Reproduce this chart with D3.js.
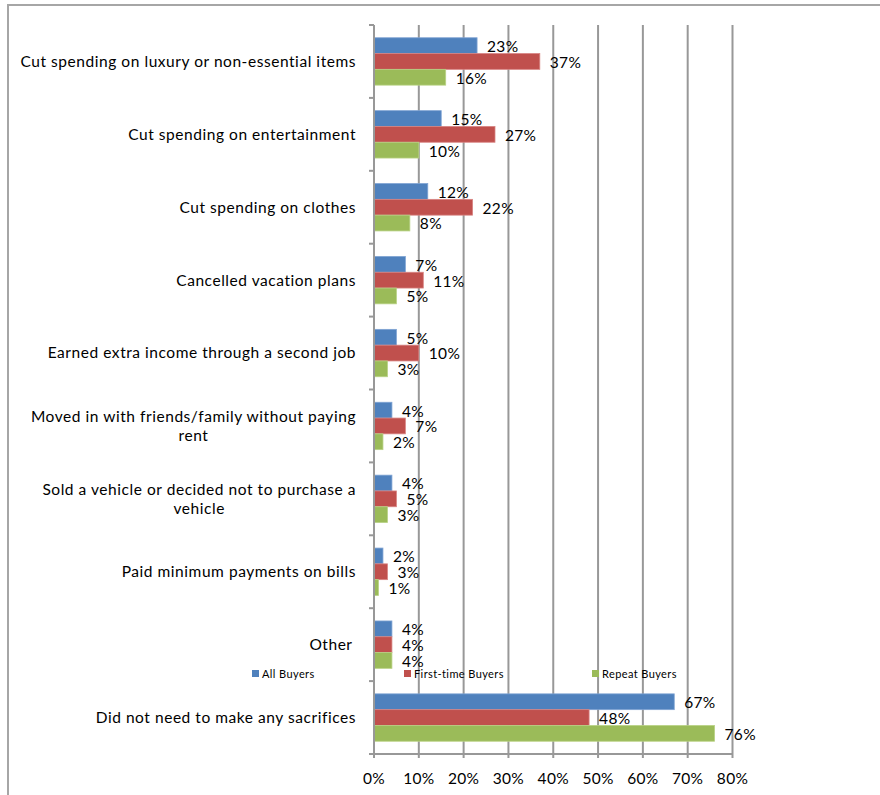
<!DOCTYPE html>
<html>
<head>
<meta charset="utf-8">
<script src="https://cdn.jsdelivr.net/npm/d3@7"></script>
<style>
  html, body { margin: 0; padding: 0; background: #fff; }
  svg { display: block; }
  text { font-family: Lato, "Open Sans", sans-serif; fill: #000; }
</style>
</head>
<body>
<svg id="chart" width="880" height="795"></svg>
<script>
// Survey: sacrifices made to purchase a home
const categories = [
  ["Cut spending on luxury or non-essential items"],
  ["Cut spending on entertainment"],
  ["Cut spending on clothes"],
  ["Cancelled vacation plans"],
  ["Earned extra income through a second job"],
  ["Moved in with friends/family without paying", "rent"],
  ["Sold a vehicle or decided not to purchase a", "vehicle"],
  ["Paid minimum payments on bills"],
  ["Other"],
  ["Did not need to make any sacrifices"]
];
const seriesNames = ["All Buyers", "First-time Buyers", "Repeat Buyers"];
const allBuyers       = [23, 15, 12, 7, 5, 4, 4, 2, 4, 67];
const firstTimeBuyers = [37, 27, 22, 11, 10, 7, 5, 3, 4, 48];
const repeatBuyers    = [16, 10, 8, 5, 3, 2, 3, 1, 4, 76];
const xTicks = [0, 10, 20, 30, 40, 50, 60, 70, 80];

const series = [allBuyers, firstTimeBuyers, repeatBuyers];
const colors = ["#4F81BD", "#C0504D", "#9BBB59"];
const strokes = ["#7FA3D3", "#D88482", "#B9D285"];

const svg = d3.select("#chart");

// outer frame (top and left edges)
svg.append("path")
  .attr("d", "M8,795 L8,5 L880,5")
  .attr("fill", "none")
  .attr("stroke", "#A6A6A6")
  .attr("stroke-width", 2);

const plotLeft = 374, plotRight = 732.5, plotTop = 25, plotBottom = 754;

const x = d3.scaleLinear().domain([0, 80]).range([plotLeft, plotRight]);
const y = d3.scaleBand()
  .domain(d3.range(categories.length))
  .range([plotTop, plotBottom])
  .paddingInner(0.35)
  .paddingOuter(0.175);
const ySub = d3.scaleBand()
  .domain(d3.range(series.length))
  .range([0, y.bandwidth()]);

// vertical gridlines
svg.append("g")
  .selectAll("line")
  .data(xTicks.slice(1))
  .join("line")
  .attr("x1", d => x(d)).attr("x2", d => x(d))
  .attr("y1", plotTop).attr("y2", plotBottom + 4)
  .attr("stroke", "#989898")
  .attr("stroke-width", 2);

// bars
const groups = svg.append("g")
  .selectAll("g")
  .data(categories.map((c, i) => i))
  .join("g")
  .attr("transform", i => `translate(0,${y(i)})`);

groups.selectAll("rect")
  .data(i => series.map((s, k) => ({ k, v: s[i] })))
  .join("rect")
  .attr("x", x(0))
  .attr("y", d => ySub(d.k))
  .attr("width", d => x(d.v) - x(0))
  .attr("height", ySub.bandwidth())
  .attr("fill", d => colors[d.k])
  .attr("stroke", d => strokes[d.k])
  .attr("stroke-width", 0.8);

groups.selectAll("text.val")
  .data(i => series.map((s, k) => ({ k, v: s[i] })))
  .join("text")
  .attr("class", "val")
  .attr("x", d => x(d.v) + 10)
  .attr("y", d => ySub(d.k) + ySub.bandwidth() / 2 + 1)
  .attr("dy", "0.35em")
  .attr("font-size", 15.5)
  .attr("letter-spacing", 0.3)
  .text(d => d.v + "%");

// category axis
const yAxisG = svg.append("g");
yAxisG.append("line")
  .attr("x1", plotLeft).attr("x2", plotLeft)
  .attr("y1", plotTop).attr("y2", plotBottom)
  .attr("stroke", "#989898").attr("stroke-width", 2);
const step = y.step();
yAxisG.selectAll("line.tick")
  .data(d3.range(categories.length + 1))
  .join("line")
  .attr("class", "tick")
  .attr("x1", plotLeft - 5).attr("x2", plotLeft)
  .attr("y1", i => plotTop + i * step).attr("y2", i => plotTop + i * step)
  .attr("stroke", "#989898").attr("stroke-width", 2);

const lineH = 19;
const labelRight = 356;
const catLabels = yAxisG.selectAll("text.cat")
  .data(categories.map((lines, i) => ({ lines, i })))
  .join("text")
  .attr("class", "cat")
  .attr("font-size", 15.5)
  .attr("letter-spacing", 0.55)
  .attr("text-anchor", "middle");

catLabels.each(function(d) {
  const t = d3.select(this);
  const cy = y(d.i) + y.bandwidth() / 2;
  const n = d.lines.length;
  const spans = t.selectAll("tspan")
    .data(d.lines)
    .join("tspan")
    .attr("y", (l, j) => cy + (j - (n - 1) / 2) * lineH)
    .attr("dy", "0.35em")
    .text(l => l);
  // right-align the block to the axis, centering each line within it
  let w = 0;
  spans.each(function() { w = Math.max(w, this.getComputedTextLength()); });
  spans.attr("x", labelRight - w / 2);
});
// "Other" sits slightly left of the label column edge
catLabels.filter(d => d.lines[0] === "Other").selectAll("tspan").attr("x", 331);

// value axis
const xAxisG = svg.append("g");
xAxisG.append("line")
  .attr("x1", plotLeft).attr("x2", plotRight)
  .attr("y1", plotBottom).attr("y2", plotBottom)
  .attr("stroke", "#989898").attr("stroke-width", 2);
xAxisG.append("line")
  .attr("x1", plotLeft).attr("x2", plotLeft)
  .attr("y1", plotBottom).attr("y2", plotBottom + 4)
  .attr("stroke", "#989898").attr("stroke-width", 2);
xAxisG.selectAll("text")
  .data(xTicks)
  .join("text")
  .attr("x", d => x(d))
  .attr("y", 779)
  .attr("dy", "0.35em")
  .attr("text-anchor", "middle")
  .attr("font-size", 15.5)
  .attr("letter-spacing", 0.3)
  .text(d => d + "%");

// legend
const legendX = [252, 404, 592];
const legend = svg.append("g")
  .selectAll("g")
  .data(seriesNames.map((n, k) => ({ n, k })))
  .join("g")
  .attr("transform", d => `translate(${legendX[d.k]},670)`);
legend.append("rect")
  .attr("width", 7).attr("height", 7)
  .attr("fill", d => colors[d.k]);
legend.append("text")
  .attr("x", 10).attr("y", 4)
  .attr("dy", "0.35em")
  .attr("font-size", 11)
  .attr("letter-spacing", 0.4)
  .text(d => d.n);
</script>
</body>
</html>
